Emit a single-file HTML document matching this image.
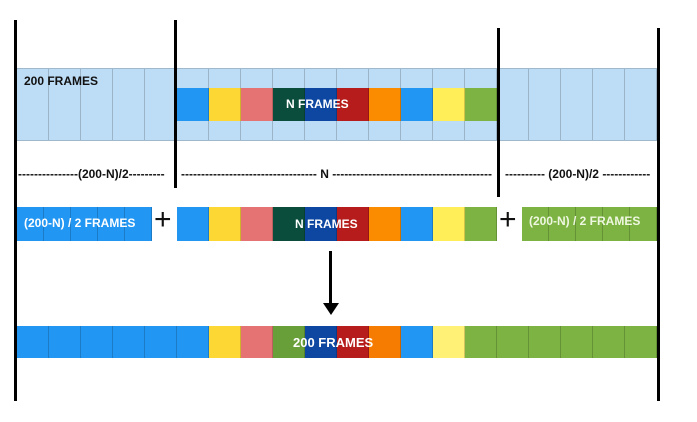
<!DOCTYPE html>
<html><head><style>
body{margin:0;width:697px;height:422px;background:#fff;position:relative;overflow:hidden;font-family:"Liberation Sans",sans-serif;font-weight:bold}
.a{position:absolute}
.c{position:absolute;box-sizing:border-box;border-right:1px solid rgba(0,0,0,0.18)}
.v{position:absolute;background:#000;width:3px}
.t{position:absolute;color:#fff;font-size:12px;white-space:nowrap}
</style></head><body>
<div class="a" style="left:17px;top:68px;width:640px;height:73px;background:#bddcf5;border-top:1px solid #9fb8cc;border-bottom:1px solid #9fb8cc;box-sizing:border-box"></div>
<div id="top"></div>
<div id="mid"></div>
<div id="r3"></div>
<div id="bot"></div>
<div class="t" style="left:24px;top:74px;color:#111">200 FRAMES</div>
<div class="t" style="left:286px;top:97px">N FRAMES</div>
<div class="a" style="left:18px;top:167px;font-size:12px;color:#111;white-space:nowrap">---------------(200-N)/2---------</div>
<div class="a" style="left:181px;top:167px;font-size:12px;color:#111;white-space:nowrap">---------------------------------- N ----------------------------------------</div>
<div class="a" style="left:505px;top:167px;font-size:12px;color:#111;white-space:nowrap">---------- (200-N)/2 ------------</div>
<div class="t" style="left:24px;top:216px">(200-N) / 2 FRAMES</div>
<div class="t" style="left:295px;top:217px">N FRAMES</div>
<div class="t" style="left:529px;top:214px;color:#eef7e0">(200-N) / 2 FRAMES</div>
<div class="a" style="left:154px;top:203px;font-size:30px;color:#111;font-weight:normal">+</div>
<div class="a" style="left:499px;top:203px;font-size:30px;color:#111;font-weight:normal">+</div>
<div class="t" style="left:293px;top:335px;font-size:13px">200 FRAMES</div>
<div class="a" style="left:329px;top:251px;width:3px;height:54px;background:#000"></div>
<div class="a" style="left:323px;top:303px;width:0;height:0;border-left:8px solid transparent;border-right:8px solid transparent;border-top:12px solid #000"></div>
<div class="v" style="left:14px;top:20px;height:381px"></div>
<div class="v" style="left:174px;top:20px;height:168px"></div>
<div class="v" style="left:497px;top:28px;height:169px"></div>
<div class="v" style="left:657px;top:28px;height:373px"></div>
<script>
function cells(id,x0,y,h,w,cols){var s='';cols.forEach(function(c,i){s+='<div class="c" style="left:'+(x0+i*w)+'px;top:'+y+'px;width:'+w+'px;height:'+h+'px;background:'+c+'"></div>';});document.getElementById(id).innerHTML+=s;}
var lb=[];for(var i=0;i<20;i++)lb.push('#bddcf5');
cells('top',17,69,71,32,lb);
var N=['#2196f3','#fdd835','#e57373','#0b4d3c','#0d47a1','#b71c1c','#fb8c00','#2196f3','#ffee58','#7cb342'];
cells('mid',177,88,33,32,N);
cells('r3',17,207,34,27,['#2196f3','#2196f3','#2196f3','#2196f3','#2196f3']);
cells('r3',177,207,34,32,N);
cells('r3',522,207,34,27,['#7cb342','#7cb342','#7cb342','#7cb342','#7cb342']);
var B=['#2196f3','#2196f3','#2196f3','#2196f3','#2196f3','#2196f3','#fdd835','#e57373','#689f38','#0d47a1','#b71c1c','#f57c00','#2196f3','#fff176','#7cb342','#7cb342','#7cb342','#7cb342','#7cb342','#7cb342'];
cells('bot',17,326,32,32,B);
</script>
</body></html>
